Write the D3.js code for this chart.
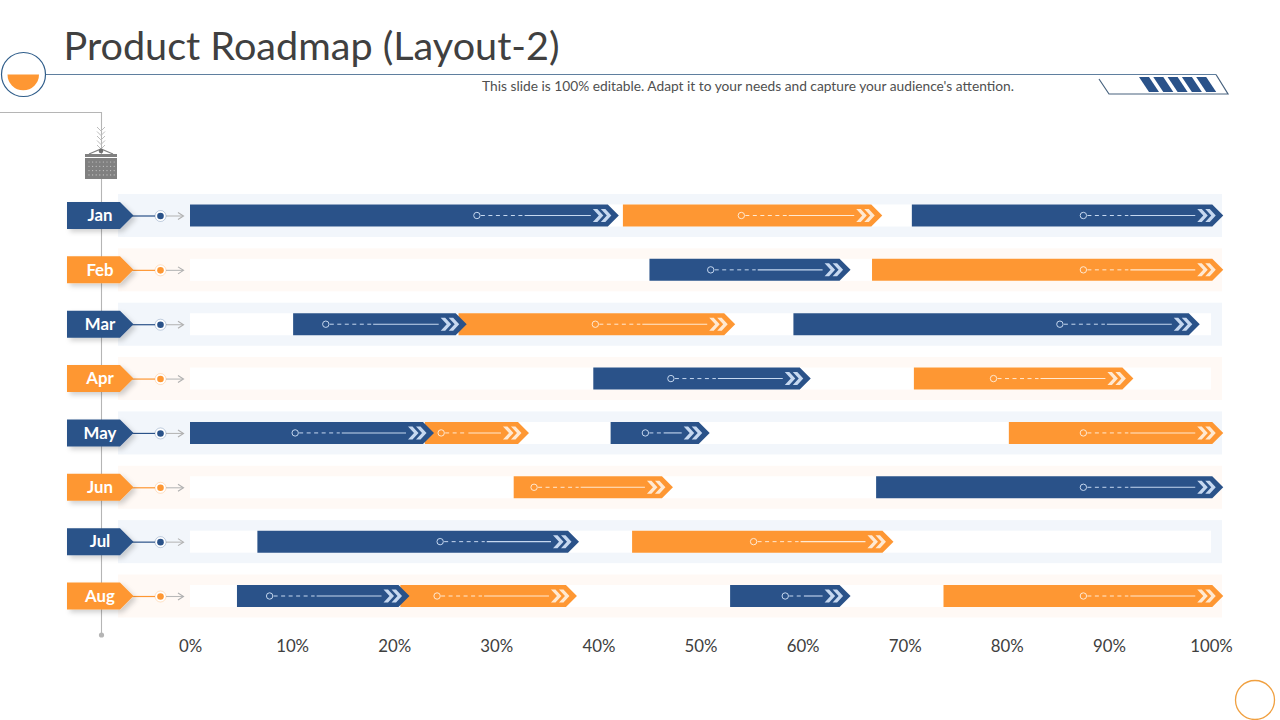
<!DOCTYPE html>
<html><head><meta charset="utf-8">
<script src="https://cdn.jsdelivr.net/npm/d3@7"></script>
<style>html,body{margin:0;padding:0;background:#fff;overflow:hidden}text{font-family:Lato,sans-serif}</style>
</head><body><svg id="c" width="1280" height="720"></svg>
<script>
const months=["Jan","Feb","Mar","Apr","May","Jun","Jul","Aug"];
const ticks=[0,10,20,30,40,50,60,70,80,90,100];
const rowKinds=["blue","orange","blue","orange","blue","orange","blue","orange"];
const janBars=[["blue",0,42,28.1],["orange",42.4,67.8,54],["blue",70.7,101.2,87.5]];
const febBars=[["blue",45,64.7,51],["orange",66.8,101.2,87.5]];
const marBars=[["blue",10.1,27.1,13.3],["orange",26.3,53.4,39.7],["blue",59.1,98.9,85.2]];
const aprBars=[["blue",39.5,60.8,47.1],["orange",70.9,92.4,78.7]];
const mayBars=[["blue",0,23.9,10.3],["orange",23,33.2,24.6],["blue",41.2,50.9,44.6],["orange",80.2,101.2,87.5]];
const junBars=[["orange",31.7,47.3,33.7],["blue",67.2,101.2,87.5]];
const julBars=[["blue",6.6,38.1,24.5],["orange",43.3,68.9,55.2]];
const augBars=[["blue",4.6,21.5,7.8],["orange",20.6,37.9,24.2],["blue",52.9,64.7,58.3],["orange",73.8,101.2,87.5]];
const rows=[janBars,febBars,marBars,aprBars,mayBars,junBars,julBars,augBars];
const titleText="Product Roadmap (Layout-2)";
const subText="This slide is 100% editable. Adapt it to your needs and capture your audience's attention.";

const BLUE="#2a5289",ORANGE="#fe9733";
const colour={blue:BLUE,orange:ORANGE},tint={blue:"#f2f6fb",orange:"#fff9f5"},light={blue:"#c6d8f0",orange:"#ffe9d2"};
const svg=d3.select("#c");
const defs=svg.append("defs");
const f=defs.append("filter").attr("id","sh").attr("x","-20%").attr("y","-20%").attr("width","150%").attr("height","170%");
f.append("feDropShadow").attr("dx",3).attr("dy",3).attr("stdDeviation",2.5).attr("flood-color","#000").attr("flood-opacity",.18);

const x=d3.scaleLinear().domain([0,100]).range([190,1211]);
const y=d3.scalePoint().domain(months).range([215.5,596]);

// header
svg.append("text").attr("x",63.5).attr("y",59.5).attr("font-size",39.6).attr("fill","#404040").text(titleText);
svg.append("line").attr("x1",45).attr("x2",1216).attr("y1",74.5).attr("y2",74.5).attr("stroke","#5f7f9f").attr("stroke-width",1.2);
svg.append("path").attr("d","M1216,74.5L1228,94H1109L1099,79").attr("fill","none").attr("stroke","#48627e").attr("stroke-width",1.2);
d3.range(5).forEach(i=>{const o=i*14.3;
 svg.append("path").attr("d",`M${1139+o},77H${1149+o}L${1159+o},92H${1149+o}Z`).attr("fill",BLUE);});
svg.append("circle").attr("cx",23.5).attr("cy",74.5).attr("r",22).attr("fill","#fff").attr("stroke","#2f5d8a").attr("stroke-width",1.2);
svg.append("path").attr("d","M7.5,74.5H39A15.75,15.75 0 0 1 7.5,74.5Z").attr("fill",ORANGE);
svg.append("text").attr("x",748).attr("y",91).attr("text-anchor","middle").attr("font-size",13.75).attr("fill","#505050").text(subText);
svg.append("circle").attr("cx",1255).attr("cy",700).attr("r",19.5).attr("fill","none").attr("stroke","#f0a040").attr("stroke-width",1.3);

// row backgrounds
const rg=svg.selectAll("g.bg").data(months).join("g").attr("class","bg").attr("transform",d=>`translate(0,${y(d)})`);
rg.append("rect").attr("x",118).attr("y",-21.5).attr("width",1104).attr("height",43).attr("fill",(d,i)=>tint[rowKinds[i]]);
rg.append("rect").attr("x",x(0)).attr("y",-11).attr("width",x(100)-x(0)).attr("height",22).attr("fill","#fff");

// timeline
svg.append("path").attr("d","M0,112.5H101.5V635").attr("fill","none").attr("stroke","#b5b5b5").attr("stroke-width",1.1);
d3.range(5).forEach(i=>svg.append("path").attr("d",`M97,${127+i*4.5}l4,4l4,-4`).attr("fill","none").attr("stroke","#bdbdbd").attr("stroke-width",1));
svg.append("circle").attr("cx",101.5).attr("cy",635).attr("r",2.6).attr("fill","#b5b5b5");
const cal=svg.append("g");
cal.append("rect").attr("x",85).attr("y",154).attr("width",32).attr("height",25).attr("fill","#fff");
cal.append("path").attr("d","M85,154H117V157H85ZM85,158H117V179H85Z").attr("fill","#808080");
cal.append("path").attr("d","M89,154L101,149L113,154").attr("fill","none").attr("stroke","#808080").attr("stroke-width",1.2);
cal.append("circle").attr("cx",101).attr("cy",151).attr("r",2.3).attr("fill","#707070");
d3.range(4).forEach(r=>d3.range(8).forEach(c=>cal.append("circle").attr("cx",89+c*3.6).attr("cy",162+r*4.3).attr("r",.6).attr("fill","#c8c8c8")));

// month tags
const tg=svg.selectAll("g.tag").data(months).join("g").attr("class","tag").attr("transform",d=>`translate(0,${y(d)})`);
tg.append("line").attr("x1",130).attr("x2",160).attr("y1",.5).attr("y2",.5).attr("stroke",(d,i)=>colour[rowKinds[i]]).attr("stroke-width",1.2);
tg.append("line").attr("x1",166).attr("x2",183).attr("y1",.5).attr("y2",.5).attr("stroke","#b8b8b8").attr("stroke-width",1.1);
tg.append("path").attr("d","M178,-3L183.5,.5L178,4").attr("fill","none").attr("stroke","#b0b0b0").attr("stroke-width",1.1);
tg.append("circle").attr("cx",160.5).attr("cy",.5).attr("r",5.5).attr("fill","#fff").attr("stroke",(d,i)=>colour[rowKinds[i]]).attr("stroke-opacity",.35).attr("stroke-width",.8);
tg.append("circle").attr("cx",160.5).attr("cy",.5).attr("r",3.3).attr("fill",(d,i)=>colour[rowKinds[i]]);
tg.append("path").attr("d","M67,-13.5H120L133.5,0L120,13.5H67Z").attr("fill",(d,i)=>colour[rowKinds[i]]).attr("filter","url(#sh)");
tg.append("text").attr("x",100).attr("y",5.8).attr("text-anchor","middle").attr("font-size",16.8).attr("font-weight",700).attr("fill","#fff").text(d=>d);

// bars, later segments first so that earlier arrow tips sit on top
const bg=svg.selectAll("g.row").data(rows).join("g").attr("class","row").attr("transform",(d,i)=>`translate(0,${y(months[i])})`);
const segs=bg.selectAll("g.seg").data(d=>d.slice().reverse()).join("g").attr("class","seg");
segs.append("path").attr("fill",d=>colour[d[0]]).attr("d",d=>{const a=x(d[1]),b=x(d[2]);return `M${a},-11H${b-11}L${b},0L${b-11},11H${a}Z`;});
segs.each(function(d){
 const g=d3.select(this),c=x(d[3]),b=x(d[2]),l=light[d[0]];
 const chev=b-26, end=chev-2, len=end-c-4, dash=Math.min(42,len*.38);
 g.append("line").attr("x1",c+4).attr("x2",c+4+dash).attr("stroke",l).attr("stroke-width",1).attr("stroke-dasharray","4 3.5");
 g.append("line").attr("x1",c+4+dash+2).attr("x2",end).attr("stroke",l).attr("stroke-width",1.1);
 g.append("circle").attr("cx",c).attr("r",3.2).attr("fill",colour[d[0]]).attr("stroke",l).attr("stroke-width",1);
 [0,8].forEach(o=>g.append("path").attr("d",`M${chev+o},-6.5h4.5l6,6.5l-6,6.5h-4.5l6,-6.5Z`).attr("fill",l));
});

// axis
const ax=svg.append("g").attr("transform","translate(0,637.5)").call(d3.axisBottom(x).tickValues(ticks).tickFormat(d=>d+"%").tickSize(0).tickPadding(3));
ax.select(".domain").remove();
ax.selectAll("text").attr("font-family","Lato,sans-serif").attr("font-size",16.8).attr("fill","#404040");
</script></body></html>
